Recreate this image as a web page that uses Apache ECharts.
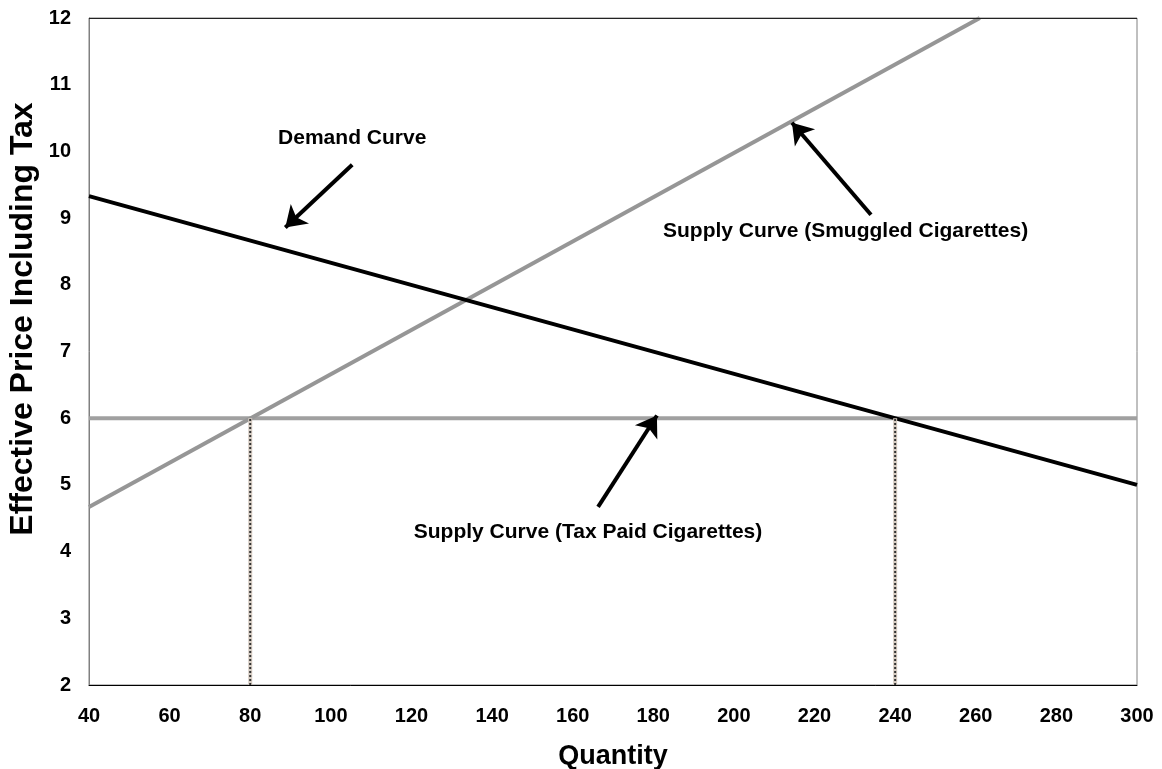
<!DOCTYPE html>
<html>
<head>
<meta charset="utf-8">
<script src="https://cdn.jsdelivr.net/npm/echarts@6/dist/echarts.min.js"></script>
<style>
html,body{margin:0;padding:0;background:#fff;}
#chart{width:1162px;height:769px;}
</style>
</head>
<body>
<div id="chart"></div>
<script>
// ---- data ----
const xTicks = [40, 60, 80, 100, 120, 140, 160, 180, 200, 220, 240, 260, 280, 300];
const yTicks = [2, 3, 4, 5, 6, 7, 8, 9, 10, 11, 12];
const demandQ = [40, 300];
const demandP = [9.33, 5.0];
const smuggledQ = [40, 261];
const smuggledP = [4.67, 12.0];
const taxPaidQ = [40, 300];
const taxPaidP = [6, 6];
const dropQ = [80, 240];
const dropTop = 6;
const dropBottom = 2;
// annotations (data coordinates)
const annoLabels = ['Demand Curve', 'Supply Curve (Smuggled Cigarettes)', 'Supply Curve (Tax Paid Cigarettes)'];
const annoLabelPos = [[105.3, 10.2], [227.7, 8.8], [163.8, 4.29]];
const arrowFrom = [[105.3, 9.8], [234.0, 9.05], [166.3, 4.67]];
const arrowTo = [[88.7, 8.86], [214.4, 10.43], [180.9, 6.04]];

const pairs = (xs, ys) => xs.map((x, i) => [x, ys[i]]);

const chart = echarts.init(document.getElementById('chart'));
const font = '"Liberation Sans", Arial, sans-serif';

const series = [
  {
    type: 'line', data: pairs(taxPaidQ, taxPaidP), symbol: 'none', silent: true,
    lineStyle: { color: '#a0a0a0', width: 4 }, z: 2
  },
  {
    type: 'line', data: pairs(smuggledQ, smuggledP), symbol: 'none', silent: true,
    lineStyle: { color: '#969696', width: 4 }, z: 3
  },
  {
    type: 'line', data: pairs(demandQ, demandP), symbol: 'none', silent: true,
    lineStyle: { color: '#000000', width: 4 }, z: 4
  }
];
dropQ.forEach(q => {
  series.push({
    type: 'line', data: [[q, dropBottom], [q, dropTop]], symbol: 'none', silent: true,
    lineStyle: { color: '#d6ccc2', width: 4 }, z: 5
  });
  series.push({
    type: 'line', data: [[q, dropBottom], [q, dropTop]], symbol: 'none', silent: true,
    lineStyle: { color: '#333', width: 2, type: [2, 2] }, z: 6
  });
});
series.push({
  type: 'lines', coordinateSystem: 'cartesian2d', silent: true, z: 10,
  symbol: ['none', 'arrow'], symbolSize: [0, 20],
  lineStyle: { color: '#000', width: 4, opacity: 1 },
  data: arrowFrom.map((f, i) => ({ coords: [f, arrowTo[i]] }))
});
series.push({
  type: 'scatter', silent: true, symbolSize: 0, z: 11,
  itemStyle: { opacity: 1 },
  data: annoLabelPos.map((p, i) => ({ value: p, name: annoLabels[i] })),
  label: {
    show: true, position: 'inside', formatter: p => p.name,
    color: '#000', fontFamily: font, fontWeight: 'bold', fontSize: 21,
    textBorderWidth: 0, textBorderColor: 'transparent', opacity: 1
  }
});

chart.setOption({
  animation: false,
  backgroundColor: '#fff',
  grid: { left: 89, right: 25, top: 18, bottom: 84, show: true, borderColor: '#808080', borderWidth: 1,
    containLabel: false, outerBoundsMode: 'none' },
  xAxis: {
    type: 'value', min: 40, max: 300, interval: 20,
    name: 'Quantity', nameLocation: 'middle', nameGap: 58,
    nameTextStyle: { fontFamily: font, fontWeight: 'bold', fontSize: 27, color: '#000' },
    axisLine: { show: true, lineStyle: { color: '#000', width: 1 } },
    axisTick: { show: false },
    splitLine: { show: false },
    axisLabel: { fontFamily: font, fontWeight: 'bold', fontSize: 20, color: '#000', margin: 21,
      formatter: v => xTicks.includes(v) ? String(v) : '' }
  },
  yAxis: {
    type: 'value', min: 2, max: 12, interval: 1,
    axisLine: { show: true, lineStyle: { color: '#808080', width: 1 } },
    axisTick: { show: false },
    splitLine: { show: false },
    axisLabel: { fontFamily: font, fontWeight: 'bold', fontSize: 20, color: '#000', margin: 18,
      formatter: v => yTicks.includes(v) ? String(v) : '' }
  },
  graphic: [
    {
      type: 'line', shape: { x1: 89, y1: 18.5, x2: 1137, y2: 18.5 },
      style: { stroke: '#222', lineWidth: 1 }, z: 20
    },
    {
      type: 'text', x: 23, y: 319, rotation: Math.PI / 2,
      style: {
        text: 'Effective Price Including Tax', fontFamily: font, fontWeight: 'bold', fontSize: 32,
        fill: '#000', align: 'center', verticalAlign: 'middle'
      }
    }
  ],
  series: series
});
</script>
</body>
</html>
